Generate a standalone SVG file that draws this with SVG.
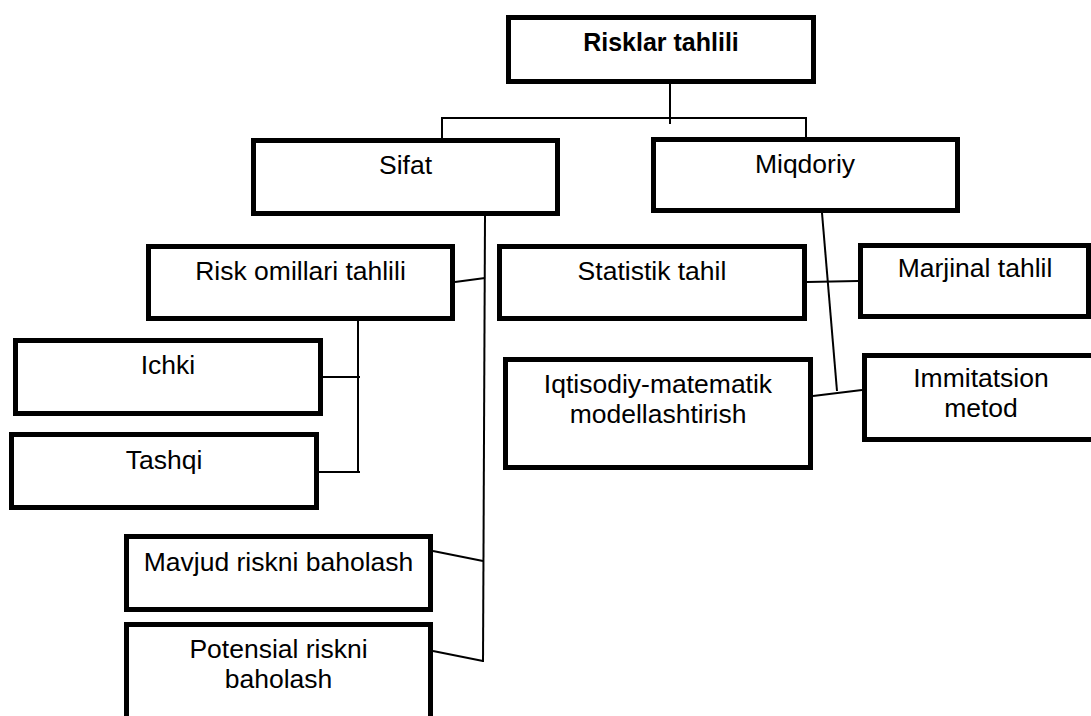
<svg xmlns="http://www.w3.org/2000/svg" width="1091" height="716" viewBox="0 0 1091 716">
<style>
.box{fill:#fff;stroke:#000;stroke-width:5}
.t{font-family:"Liberation Sans",Arial,sans-serif;font-size:26.5px;fill:#000;text-anchor:middle}
.b{font-weight:bold;font-size:25px}
.c{fill:none;stroke:#000;stroke-width:2}
</style>
<rect width="1091" height="716" fill="#fff"/>
<g id="connectors">
<line class="c" x1="670" y1="84" x2="670" y2="124"/>
<line class="c" x1="441" y1="118" x2="807" y2="118"/>
<line class="c" x1="442" y1="117" x2="442" y2="138"/>
<line class="c" x1="806" y1="117" x2="806" y2="137"/>
<line class="c" x1="485" y1="216" x2="483" y2="662"/>
<line class="c" x1="455" y1="282" x2="485" y2="278"/>
<line class="c" x1="358" y1="321" x2="358" y2="473"/>
<line class="c" x1="323" y1="377" x2="360" y2="377"/>
<line class="c" x1="319" y1="472" x2="360" y2="472"/>
<line class="c" x1="433" y1="551" x2="483" y2="561"/>
<line class="c" x1="433" y1="651" x2="483" y2="661"/>
<line class="c" x1="822" y1="213" x2="837" y2="391"/>
<line class="c" x1="807" y1="282" x2="858" y2="281"/>
<line class="c" x1="813" y1="396" x2="862" y2="390"/>
</g>
<g id="risklar-tahlili">
<rect class="box" x="508.5" y="17.5" width="305" height="64"/>
<text class="t b" x="661" y="51">Risklar tahlili</text>
</g>
<g id="sifat">
<rect class="box" x="253.5" y="140.5" width="304" height="73"/>
<text class="t" x="405.5" y="174">Sifat</text>
</g>
<g id="miqdoriy">
<rect class="box" x="653.5" y="139.5" width="304" height="71"/>
<text class="t" x="805" y="173">Miqdoriy</text>
</g>
<g id="risk-omillari">
<rect class="box" x="148.5" y="246.5" width="304" height="72"/>
<text class="t" x="300.5" y="280">Risk omillari tahlili</text>
</g>
<g id="ichki">
<rect class="box" x="15.5" y="340.5" width="305" height="73"/>
<text class="t" x="168" y="374">Ichki</text>
</g>
<g id="tashqi">
<rect class="box" x="11.5" y="434.5" width="305" height="73"/>
<text class="t" x="164" y="469">Tashqi</text>
</g>
<g id="mavjud">
<rect class="box" x="126.5" y="536.5" width="304" height="73"/>
<text class="t" x="278.5" y="571">Mavjud riskni baholash</text>
</g>
<g id="potensial">
<rect class="box" x="126.5" y="624.5" width="304" height="120"/>
<text class="t" x="278.5" y="658">Potensial riskni</text>
<text class="t" x="278.5" y="688">baholash</text>
</g>
<g id="statistik">
<rect class="box" x="499.5" y="246.5" width="305" height="72"/>
<text class="t" x="652" y="280">Statistik tahil</text>
</g>
<g id="marjinal">
<rect class="box" x="860.5" y="245.5" width="228" height="71"/>
<text class="t" x="975" y="277">Marjinal tahlil</text>
</g>
<g id="iqtisodiy">
<rect class="box" x="505.5" y="359.5" width="305" height="108"/>
<text class="t" x="658" y="393">Iqtisodiy-matematik</text>
<text class="t" x="658" y="423">modellashtirish</text>
</g>
<g id="immitatsion">
<rect class="box" x="864.5" y="355.5" width="250" height="84"/>
<text class="t" x="981" y="387">Immitatsion</text>
<text class="t" x="981" y="417">metod</text>
</g>
</svg>
